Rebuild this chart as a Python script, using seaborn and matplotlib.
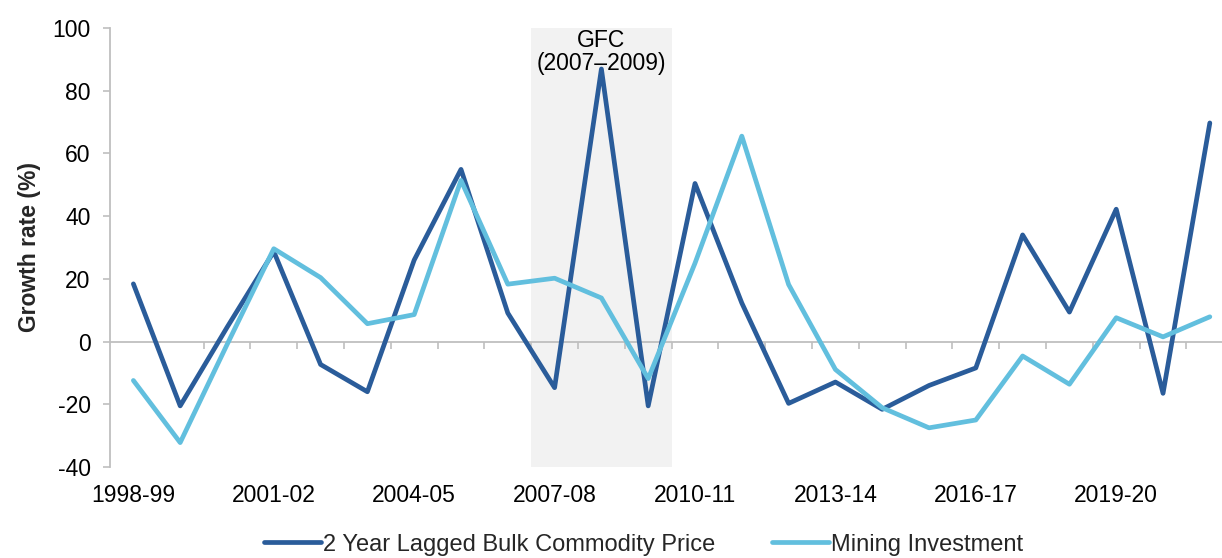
import matplotlib.pyplot as plt
import seaborn as sns
import numpy as np
import pandas as pd

years = ['1998-99', '1999-00', '2000-01', '2001-02', '2002-03', '2003-04',
         '2004-05', '2005-06', '2006-07', '2007-08', '2008-09', '2009-10',
         '2010-11', '2011-12', '2012-13', '2013-14', '2014-15', '2015-16',
         '2016-17', '2017-18', '2018-19', '2019-20', '2020-21', '2021-22']

commodity = [18.4, -20.5, 4.5, 28.7, -7.3, -16.0, 26.0, 54.9, 9.1, -14.7, 86.9, -20.5,
             50.4, 12.3, -19.7, -12.9, -21.6, -14.0, -8.4, 34.0, 9.4, 42.2, -16.5, 69.7]
mining = [-12.4, -32.2, -1.0, 29.6, 20.4, 5.7, 8.6, 51.4, 18.3, 20.2, 13.9, -11.8,
          25.0, 65.5, 18.2, -8.9, -21.1, -27.5, -25.0, -4.6, -13.6, 7.6, 1.5, 7.9]

series_names = ['2 Year Lagged Bulk Commodity Price', 'Mining Investment']
gfc_years = ['2007-08', '2009-10']
gfc_label = 'GFC\n(2007\u20132009)'

df = pd.DataFrame({
    'year': years * 2,
    'value': commodity + mining,
    'series': [series_names[0]] * len(years) + [series_names[1]] * len(years),
})

sns.set_theme(style='white')
plt.rcParams['font.family'] = ['Liberation Sans', 'DejaVu Sans']
plt.rcParams['font.size'] = 16.5
plt.rcParams['axes.unicode_minus'] = False

grey = '#BFBFBF'
palette = {series_names[0]: '#2A5C9A', series_names[1]: '#62BFDE'}

fig = plt.figure(figsize=(12.22, 5.58), dpi=100)
ax = fig.add_axes([0.09, 0.163, 0.91, 0.787])

sns.lineplot(data=df, x='year', y='value', hue='series', palette=palette,
             linewidth=3.4, ax=ax, zorder=3, legend=True)

# GFC shaded band
i0, i1 = years.index(gfc_years[0]), years.index(gfc_years[1])
ax.axvspan(i0 - 0.5, i1 + 0.5, color='#F2F2F2', zorder=-1, lw=0)
ax.text((i0 + i1) / 2, 99.5, gfc_label, ha='center', va='top', fontsize=16.5,
        linespacing=0.95, color='black', zorder=2)

ax.set_ylim(-40, 100)
ax.set_yticks(range(-40, 101, 20))
ax.set_xlim(-0.5, 23.26)
ax.set_xticks(range(0, len(years), 3))
ax.set_xticklabels(years[::3])
ax.tick_params(axis='x', length=0, pad=12, labelsize=16.5, colors='black')
ax.tick_params(axis='y', length=5, width=1.2, color=grey, pad=9,
               labelsize=16.5, labelcolor='black', left=True)

for s in ['top', 'right', 'bottom']:
    ax.spines[s].set_visible(False)
ax.spines['left'].set_color(grey)
ax.spines['left'].set_linewidth(1.3)

ax.set_xlabel('')
ax.set_ylabel('Growth rate (%)', fontsize=16.5, fontweight='bold', labelpad=8)

# zero axis line with ticks between categories
sec = ax.secondary_xaxis(40 / 140)
sec.set_xticks(np.arange(0.5, len(years) - 1, 1))
sec.tick_params(length=5, width=1.2, color=grey, labelbottom=False)
sec.spines['bottom'].set_color(grey)
sec.spines['bottom'].set_linewidth(1.3)

handles, labels = ax.get_legend_handles_labels()
ax.legend(handles, labels, loc='center', bbox_to_anchor=(0.527, 0.024),
          bbox_transform=fig.transFigure, ncol=2, frameon=False,
          fontsize=17, handlelength=2.4, handletextpad=0.1, columnspacing=2.4)

fig.savefig('out.png', dpi=100)
